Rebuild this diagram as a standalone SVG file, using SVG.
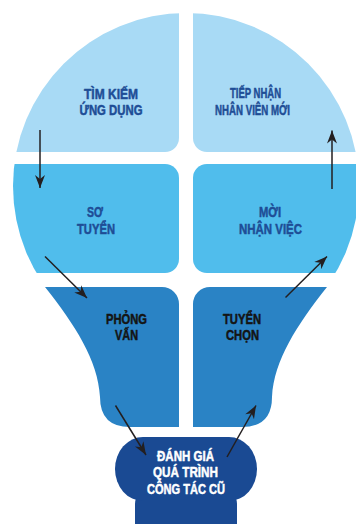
<svg xmlns="http://www.w3.org/2000/svg" width="356" height="524" viewBox="0 0 356 524">
<style>
.t{font-family:"Liberation Sans",Arial,sans-serif;font-weight:bold;font-size:15px;text-anchor:middle;stroke-width:0.5;stroke-linejoin:round}
.blue{fill:#1E4D96;stroke:#1E4D96}
.dark{fill:#141414;stroke:#141414}
.white{fill:#FFFFFF;stroke:#FFFFFF}
.c{stroke:#231F20;stroke-width:1.5;fill:none;marker-end:url(#ah)}
</style>
<defs>
<clipPath id="bulb"><circle cx="186" cy="186" r="173"/></clipPath>
<marker id="ah" markerUnits="userSpaceOnUse" markerWidth="14" markerHeight="11" refX="13" refY="5" orient="auto" viewBox="0 0 14 10">
<path d="M0,0 L13,5 L0,10 L4,5 Z" fill="#231F20"/>
</marker>
</defs>
<g id="tim-kiem">
<path clip-path="url(#bulb)" fill="#A8DAF5" d="M0,0 H179 V138 A14,14 0 0 1 165,152 H0 Z"/>
<text class="t blue" x="111" y="98.5" textLength="54" lengthAdjust="spacingAndGlyphs">TÌM KIẾM</text>
<text class="t blue" x="111" y="115" textLength="63" lengthAdjust="spacingAndGlyphs">ỨNG DỤNG</text>
</g>
<g id="tiep-nhan">
<path clip-path="url(#bulb)" fill="#A8DAF5" d="M193,0 H356 V152 H207 A14,14 0 0 1 193,138 Z"/>
<text class="t blue" x="255.5" y="98" textLength="51" lengthAdjust="spacingAndGlyphs">TIẾP NHẬN</text>
<text class="t blue" x="252.5" y="115" textLength="75" lengthAdjust="spacingAndGlyphs">NHÂN VIÊN MỚI</text>
</g>
<g id="so-tuyen">
<path clip-path="url(#bulb)" fill="#50BDEC" d="M0,164 H165 A14,14 0 0 1 179,178 V259 A14,14 0 0 1 165,273 H0 Z"/>
<text class="t blue" x="95" y="217" textLength="16" lengthAdjust="spacingAndGlyphs">SƠ</text>
<text class="t blue" x="96" y="233.5" textLength="38" lengthAdjust="spacingAndGlyphs">TUYỂN</text>
</g>
<g id="moi-nhan-viec">
<path clip-path="url(#bulb)" fill="#50BDEC" d="M356,164 H207 A14,14 0 0 0 193,178 V259 A14,14 0 0 0 207,273 H356 Z"/>
<text class="t blue" x="270" y="217" textLength="22" lengthAdjust="spacingAndGlyphs">MỜI</text>
<text class="t blue" x="270.5" y="233.5" textLength="63" lengthAdjust="spacingAndGlyphs">NHẬN VIỆC</text>
</g>
<g id="phong-van">
<path fill="#2A83C5" d="M45,287 H162 A17,17 0 0 1 179,304 V427 H130 Q100,427 100,397 C98,360 75,325 45,287 Z"/>
<text class="t dark" x="126.5" y="323.5" textLength="41" lengthAdjust="spacingAndGlyphs">PHỎNG</text>
<text class="t dark" x="126.5" y="340" textLength="23" lengthAdjust="spacingAndGlyphs">VẤN</text>
</g>
<g id="tuyen-chon">
<path fill="#2A83C5" d="M327,287 H210 A17,17 0 0 0 193,304 V427 H242 Q272,427 272,397 C274,360 297,325 327,287 Z"/>
<text class="t dark" x="242" y="323.5" textLength="38" lengthAdjust="spacingAndGlyphs">TUYỂN</text>
<text class="t dark" x="242.5" y="340" textLength="33" lengthAdjust="spacingAndGlyphs">CHỌN</text>
</g>
<g id="danh-gia">
<rect x="135" y="488" width="102" height="60" rx="16" fill="#1A4A93"/>
<rect x="115" y="437" width="142" height="64" rx="28" ry="32" fill="#1A4A93"/>
<text class="t white" x="185.5" y="460.5" textLength="57" lengthAdjust="spacingAndGlyphs">ĐÁNH GIÁ</text>
<text class="t white" x="185.5" y="477" textLength="65" lengthAdjust="spacingAndGlyphs">QUÁ TRÌNH</text>
<text class="t white" x="186" y="493.5" textLength="78" lengthAdjust="spacingAndGlyphs">CÔNG TÁC CŨ</text>
</g>
<g id="connectors">
<line class="c" x1="40" y1="130" x2="40" y2="188"/>
<line class="c" x1="45" y1="256.5" x2="87" y2="298"/>
<line class="c" x1="115.5" y1="405.5" x2="146" y2="455"/>
<line class="c" x1="227" y1="457" x2="256" y2="405.5"/>
<line class="c" x1="285.5" y1="297.5" x2="327" y2="256.5"/>
<line class="c" x1="332" y1="189" x2="332" y2="130.5"/>
</g>
</svg>
